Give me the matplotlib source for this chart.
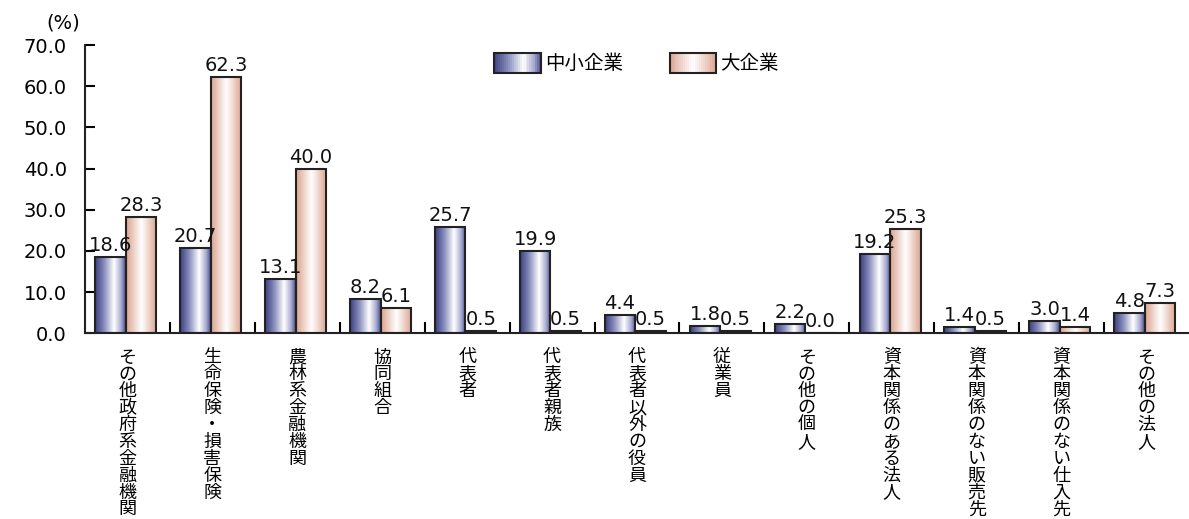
import numpy as np
import matplotlib.pyplot as plt
from matplotlib.patches import Rectangle
from matplotlib.legend_handler import HandlerBase
from matplotlib.colors import LinearSegmentedColormap

plt.rcParams['font.family'] = ['DejaVu Sans', 'Noto Sans CJK JP']

# 借入先別の構成比(%)
categories = ['その他政府系金融機関', '生命保険・損害保険', '農林系金融機関', '協同組合',
              '代表者', '代表者親族', '代表者以外の役員', '従業員', 'その他の個人',
              '資本関係のある法人', '資本関係のない販売先', '資本関係のない仕入先', 'その他の法人']
sme = [18.6, 20.7, 13.1, 8.2, 25.7, 19.9, 4.4, 1.8, 2.2, 19.2, 1.4, 3.0, 4.8]
large = [28.3, 62.3, 40.0, 6.1, 0.5, 0.5, 0.5, 0.5, 0.0, 25.3, 0.5, 1.4, 7.3]
series_names = ['中小企業', '大企業']

# 棒の横方向グラデーション
blue_cmap = LinearSegmentedColormap.from_list(
    'blue', [(0, '#3c4080'), (0.3, '#8a8fbd'), (0.62, '#ffffff'), (0.85, '#a9acd0'), (1, '#4a4e8c')])
salmon_cmap = LinearSegmentedColormap.from_list(
    'salmon', [(0, '#dca590'), (0.5, '#ffffff'), (1, '#dca590')])
grad = np.linspace(0, 1, 64).reshape(1, -1)


def fill_gradient(ax, bars, cmap):
    for b in bars:
        x, w, h = b.get_x(), b.get_width(), b.get_height()
        if h <= 0:
            continue
        ax.imshow(grad, cmap=cmap, aspect='auto', extent=(x, x + w, 0, h),
                  zorder=2, interpolation='bilinear')


class GradientHandler(HandlerBase):
    def __init__(self, cmap):
        super().__init__()
        self.cmap = cmap

    def create_artists(self, legend, orig_handle, xdescent, ydescent,
                       width, height, fontsize, trans):
        artists = []
        n = 24
        for i in range(n):
            artists.append(Rectangle((-xdescent + width * i / n, -ydescent), width / n + 0.3, height,
                                     facecolor=self.cmap((i + 0.5) / n), edgecolor='none',
                                     transform=trans))
        artists.append(Rectangle((-xdescent, -ydescent), width, height, facecolor='none',
                                 edgecolor='#222222', linewidth=1.5, transform=trans))
        return artists


fig = plt.figure(figsize=(11.89, 5.19), dpi=100)
ax = fig.add_axes([0.0715, 0.358, 0.9285, 0.555])

x = np.arange(len(categories))
w = 0.36
b1 = ax.bar(x - 0.2, sme, w, facecolor='none', edgecolor='#222222', linewidth=1.5, zorder=3)
b2 = ax.bar(x + 0.16, large, w, facecolor='none', edgecolor='#222222', linewidth=1.5, zorder=3)
fill_gradient(ax, b1, blue_cmap)
fill_gradient(ax, b2, salmon_cmap)

for bars, vals in ((b1, sme), (b2, large)):
    for b, v in zip(bars, vals):
        ax.text(b.get_x() + b.get_width() / 2, v + 0.5, f'{v:.1f}', ha='center', va='bottom',
                fontsize=14, color='#111111', zorder=4)

ax.set_xlim(-0.5, len(categories) - 0.5)
ax.set_ylim(0, 70)
ax.set_yticks(np.arange(0, 71, 10))
ax.set_yticklabels([f'{t:.1f}' for t in np.arange(0, 71, 10)], fontsize=14)
ax.tick_params(axis='y', direction='in', length=7, width=1.5, pad=13)

ax.set_xticks(x)
ax.set_xticklabels(['\n'.join(c) for c in categories], family=['Noto Sans CJK JP'],
                   fontsize=13, va='top', linespacing=0.92)
ax.tick_params(axis='x', which='major', length=0, pad=11)
ax.set_xticks(x[:-1] + 0.5, minor=True)
ax.tick_params(axis='x', which='minor', direction='in', length=8, width=1.5)

for s in ('top', 'right'):
    ax.spines[s].set_visible(False)
for s in ('left', 'bottom'):
    ax.spines[s].set_linewidth(1.5)
    ax.spines[s].set_color('#222222')

ax.text(-0.02, 1.045, '(%)', transform=ax.transAxes, fontsize=14, ha='center', va='bottom')

h1 = Rectangle((0, 0), 1, 1)
h2 = Rectangle((0, 0), 1, 1)
ax.legend([h1, h2], series_names, loc='upper left', bbox_to_anchor=(0.355, 1.035), ncol=2,
          frameon=False, prop={'family': ['Noto Sans CJK JP'], 'size': 14},
          handlelength=2.4, handleheight=1.2, handletextpad=0.2, columnspacing=2.4,
          handler_map={h1: GradientHandler(blue_cmap), h2: GradientHandler(salmon_cmap)})

fig.savefig('out.png', dpi=100)
